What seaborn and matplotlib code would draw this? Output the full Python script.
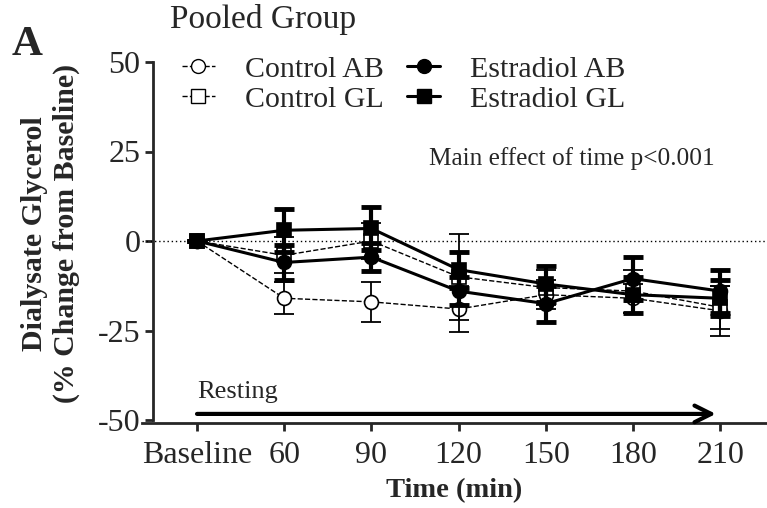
import numpy as np
import pandas as pd
import matplotlib
matplotlib.use("Agg")
import matplotlib.pyplot as plt
import seaborn as sns
from matplotlib.lines import Line2D

# time points (categorical positions on the x axis)
time_labels = ["Baseline", "60", "90", "120", "150", "180", "210"]

# % change from baseline
control_ab = [0, -16, -17, -19, -15, -16, -19.5]
control_ab_sem = [0, 4.5, 5.5, 6.5, 4, 4, 7]
control_gl = [0, -4, 0, -10, -13, -14, -18.5]
control_gl_sem = [0, 5, 5, 12, 5, 6, 6]
estradiol_ab = [0, -6, -4.5, -14, -17.5, -10.5, -14]
estradiol_ab_sem = [0, 5, 4, 4, 5, 6, 6]
estradiol_gl = [0, 3, 3.5, -8, -12, -15, -16]
estradiol_gl_sem = [0, 6, 6, 5, 5, 5, 5]

groups = ["Control AB", "Control GL", "Estradiol AB", "Estradiol GL"]
means = [control_ab, control_gl, estradiol_ab, estradiol_gl]
sems = [control_ab_sem, control_gl_sem, estradiol_ab_sem, estradiol_gl_sem]

rows = []
for g, m, s in zip(groups, means, sems):
    for i, lab in enumerate(time_labels):
        rows.append({"group": g, "pos": i, "time": lab, "mean": m[i], "sem": s[i]})
df = pd.DataFrame(rows)

sns.set_style("ticks")
plt.rcParams["font.family"] = ["Liberation Serif", "DejaVu Serif"]
plt.rcParams["axes.unicode_minus"] = False

fig = plt.figure(figsize=(7.67, 5.08), dpi=100)
ax = fig.add_axes([142 / 767, 1 - 420 / 508, 625 / 767, 358 / 508])

styles = {
    "Control AB": dict(marker="o", mfc="white", ls="--", lw=1.0, ms=10, elw=1.3, cth=1.3),
    "Control GL": dict(marker="s", mfc="white", ls="--", lw=1.0, ms=10, elw=1.3, cth=1.3),
    "Estradiol AB": dict(marker="o", mfc="black", ls="-", lw=2.2, ms=10, elw=3.0, cth=3.5),
    "Estradiol GL": dict(marker="s", mfc="black", ls="-", lw=2.2, ms=10, elw=3.0, cth=3.5),
}

ax.axhline(0, color="black", ls=(0, (1, 2)), lw=1.0, zorder=1)

for z, g in enumerate(groups):
    sub = df[df["group"] == g]
    st = styles[g]
    ax.errorbar(sub["pos"], sub["mean"], yerr=sub["sem"], fmt="none",
                ecolor="black", elinewidth=st["elw"], capsize=7,
                capthick=st["cth"], zorder=2 + z)
    sns.lineplot(data=sub, x="pos", y="mean", ax=ax, color="black",
                 linestyle=st["ls"], linewidth=st["lw"], marker=st["marker"],
                 markersize=st["ms"], markerfacecolor=st["mfc"],
                 markeredgecolor="black", markeredgewidth=1.2,
                 zorder=3 + z, legend=False)

ax.set_xlim(-0.631, 6.537)
ax.set_ylim(-50, 50)
ax.set_xticks(range(len(time_labels)))
ax.set_xticklabels(time_labels)
ax.set_yticks([-50, -25, 0, 25, 50])
ax.spines["left"].set_position(("data", -0.505))
ax.spines["bottom"].set_position(("outward", 2))
ax.spines["right"].set_visible(False)
ax.spines["top"].set_visible(False)
for sp in ["left", "bottom"]:
    ax.spines[sp].set_linewidth(2.0)
ax.tick_params(axis="both", labelsize=23, width=2.0, length=6, pad=3)
ax.tick_params(axis="x", pad=7)
ax.set_xlabel("Time (min)", fontsize=20.5, fontweight="bold", labelpad=6)
ax.set_ylabel("Dialysate Glycerol\n(% Change from Baseline)", fontsize=21.5,
              fontweight="bold", linespacing=1.25)
ax.yaxis.set_label_coords(-0.099, 0.52)

# resting period arrow
rest_start, rest_end, rest_y = 0, 5.95, -48.3
ax.annotate("", xy=(rest_end, rest_y), xytext=(rest_start, rest_y),
            arrowprops=dict(arrowstyle="->", lw=3, mutation_scale=30, color="black",
                            shrinkA=0, shrinkB=0))
ax.text(rest_start, rest_y + 3, "Resting", fontsize=19, ha="left", va="bottom")

ax.text(4.3, 23, "Main effect of time p<0.001", fontsize=18.2, ha="center", va="center")

handles = [
    Line2D([], [], color="black", ls="--", lw=1.0, marker="o", mfc="white", ms=10),
    Line2D([], [], color="black", ls="--", lw=1.0, marker="s", mfc="white", ms=10),
    Line2D([], [], color="black", ls="-", lw=2.2, marker="o", mfc="black", ms=10),
    Line2D([], [], color="black", ls="-", lw=2.2, marker="s", mfc="black", ms=10),
]
fig.legend(handles, groups, ncol=2, loc="upper left", frameon=False,
           bbox_to_anchor=(182 / 767, 1 - 56 / 508), fontsize=21.5,
           handlelength=1.1, handletextpad=1.0, columnspacing=0.8,
           labelspacing=0.1, borderpad=0, borderaxespad=0)

fig.text(170 / 767, 1 - 4 / 508, "Pooled Group", fontsize=24, ha="left", va="top")
fig.text(12 / 767, 1 - 26 / 508, "A", fontsize=31, fontweight="bold", ha="left", va="top")

fig.savefig("out.png", dpi=100)
